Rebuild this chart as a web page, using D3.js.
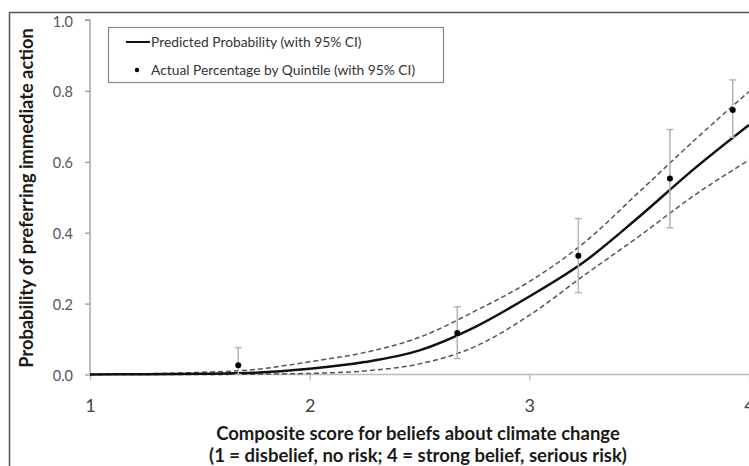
<!DOCTYPE html>
<html>
<head>
<meta charset="utf-8">
<script src="https://cdn.jsdelivr.net/npm/d3@7"></script>
<style>
  html, body { margin: 0; padding: 0; background: #fff; }
  svg { display: block; font-family: Lato, "Open Sans", sans-serif; }
</style>
</head>
<body>
<svg id="chart" width="749" height="466"></svg>
<script>
// ---- data ----
const curveX    = [1.0, 1.25, 1.5, 1.75, 2.0, 2.25, 2.5, 2.75, 3.0, 3.25, 3.5, 3.75, 4.0];
const predicted = [0.000, 0.001, 0.002, 0.005, 0.016, 0.035, 0.068, 0.133, 0.220, 0.318, 0.445, 0.580, 0.704];
const upperCI   = [0.000, 0.002, 0.006, 0.014, 0.036, 0.062, 0.105, 0.178, 0.262, 0.372, 0.515, 0.660, 0.798];
const lowerCI   = [0.000, 0.000, 0.000, 0.001, 0.003, 0.010, 0.030, 0.078, 0.167, 0.280, 0.390, 0.505, 0.605];

const quintileX    = [1.675, 2.672, 3.223, 3.640, 3.926];
const quintilePct  = [0.026, 0.117, 0.335, 0.553, 0.746];
const quintileLow  = [0.000, 0.045, 0.231, 0.414, 0.669];
const quintileHigh = [0.076, 0.191, 0.440, 0.691, 0.831];

const xTicks = [1, 2, 3, 4];
const yTicks = [0, 0.2, 0.4, 0.6, 0.8, 1.0];

const legendLabels = ["Predicted Probability (with 95% CI)", "Actual Percentage by Quintile (with 95% CI)"];
const xTitle = ["Composite score for beliefs about climate change", "(1 = disbelief, no risk; 4 = strong belief, serious risk)"];
const yTitle = "Probability of preferring immediate action";

// ---- drawing ----
const svg = d3.select("#chart");
const x = d3.scaleLinear().domain([1, 4]).range([90, 749]);
const y = d3.scaleLinear().domain([0, 1]).range([374.5, 20]);

// outer frame (partially cropped in the reference)
svg.append("path")
  .attr("d", "M9.5,466 L9.5,12.5 L749,12.5")
  .attr("fill", "none").attr("stroke", "#555").attr("stroke-width", 1.5);

// y axis
const yAxis = svg.append("g").attr("transform", `translate(${x(1)},0)`)
  .call(d3.axisLeft(y).tickValues(yTicks).tickFormat(d3.format(".1f")).tickSize(5).tickPadding(12));
yAxis.select(".domain").attr("stroke", "#999").attr("stroke-width", 1.3).attr("d", `M-5,${y(1)}H0V${y(0)}`);
yAxis.selectAll(".tick line").attr("stroke", "#999").attr("stroke-width", 1.3);
yAxis.selectAll(".tick text").attr("fill", "#555").attr("font-size", 14.5).attr("dy", "0.42em")
  .attr("font-family", "Lato, sans-serif");

// x axis
const xAxis = svg.append("g").attr("transform", `translate(0,${y(0)})`)
  .call(d3.axisBottom(x).tickValues(xTicks).tickFormat(d3.format("d")).tickSize(6).tickPadding(19));
xAxis.select(".domain").attr("stroke", "#bbb").attr("stroke-width", 1.5).attr("d", `M${x(1)},0H${x(4)}`);
xAxis.selectAll(".tick line").attr("stroke", "#bbb").attr("stroke-width", 1.3);
xAxis.selectAll(".tick text").attr("fill", "#444").attr("font-size", 18)
  .attr("font-family", "Lato, sans-serif");

// curves
const mk = vals => d3.line().x((d, i) => x(curveX[i])).y(d => y(d)).curve(d3.curveMonotoneX)(vals);
svg.append("path").attr("d", mk(upperCI)).attr("fill", "none")
  .attr("stroke", "#555").attr("stroke-width", 1.5).attr("stroke-dasharray", "5,3");
svg.append("path").attr("d", mk(lowerCI)).attr("fill", "none")
  .attr("stroke", "#555").attr("stroke-width", 1.5).attr("stroke-dasharray", "5,3");
svg.append("path").attr("d", mk(predicted)).attr("fill", "none")
  .attr("stroke", "#111").attr("stroke-width", 2.5);

// error bars
const eb = svg.append("g").attr("stroke", "#b5b5b5").attr("stroke-width", 1.5);
quintileX.forEach((qx, i) => {
  const cx = x(qx);
  eb.append("line").attr("x1", cx).attr("x2", cx).attr("y1", y(quintileLow[i])).attr("y2", y(quintileHigh[i]));
  eb.append("line").attr("x1", cx - 3.5).attr("x2", cx + 3.5).attr("y1", y(quintileHigh[i])).attr("y2", y(quintileHigh[i]));
  eb.append("line").attr("x1", cx - 3.5).attr("x2", cx + 3.5).attr("y1", y(quintileLow[i])).attr("y2", y(quintileLow[i]));
});
svg.append("g").selectAll("circle").data(quintilePct).join("circle")
  .attr("cx", (d, i) => x(quintileX[i])).attr("cy", d => y(d)).attr("r", 3).attr("fill", "#000");

// legend
const lg = svg.append("g");
lg.append("rect").attr("x", 108.5).attr("y", 27.5).attr("width", 335).attr("height", 55)
  .attr("fill", "#fff").attr("stroke", "#888").attr("stroke-width", 1.2);
lg.append("line").attr("x1", 126).attr("x2", 150).attr("y1", 42).attr("y2", 42)
  .attr("stroke", "#111").attr("stroke-width", 2);
lg.append("circle").attr("cx", 137).attr("cy", 70).attr("r", 2.2).attr("fill", "#000");
lg.selectAll("text").data(legendLabels).join("text")
  .attr("x", 151).attr("y", (d, i) => i === 0 ? 47 : 75)
  .attr("font-size", 13.8).attr("fill", "#333").text(d => d);

// axis titles
svg.append("g").selectAll("text").data(xTitle).join("text")
  .attr("x", 418).attr("y", (d, i) => i === 0 ? 440 : 462)
  .attr("text-anchor", "middle").attr("font-weight", "bold").attr("font-size", 18.5)
  .attr("fill", "#1a1a1a").text(d => d);
svg.append("text")
  .attr("transform", "translate(33,198) rotate(-90)")
  .attr("text-anchor", "middle").attr("font-weight", "bold").attr("font-size", 18.3)
  .attr("fill", "#1a1a1a").text(yTitle);
</script>
</body>
</html>
